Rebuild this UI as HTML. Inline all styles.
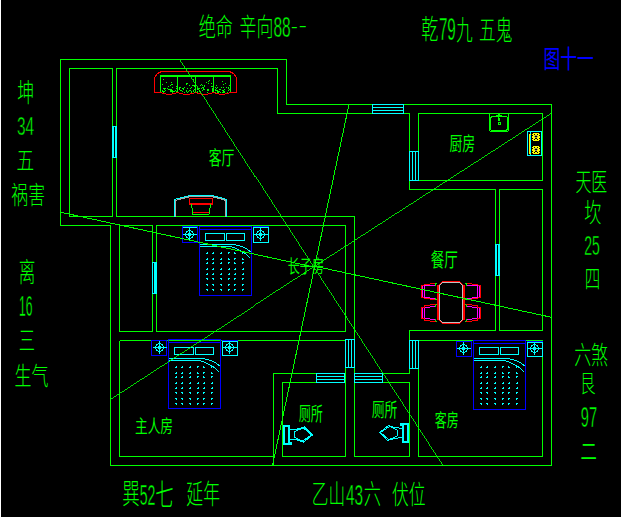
<!DOCTYPE html>
<html lang="zh"><head><meta charset="utf-8"><title>图十一</title>
<style>
html,body{margin:0;padding:0;background:#000;}
body{width:621px;height:518px;overflow:hidden;position:relative;}
#frame{position:absolute;left:0;top:0;width:620px;height:517px;border-left:1px solid #fff;border-bottom:1px solid #fff;background:#000;}
svg{position:absolute;left:0;top:0;}
text{font-family:"Liberation Sans","Noto Sans CJK SC",sans-serif;font-weight:300;white-space:pre;}
</style></head><body>
<div id="frame"></div>
<svg width="621" height="518" viewBox="0 0 621 518">
<g shape-rendering="crispEdges" fill="none">
<polyline points="60.5,225.5 60.5,59.5 286.5,59.5 286.5,104.5 551.5,104.5 551.5,465.5 110.5,465.5 110.5,225.5" stroke="#00ff00" stroke-width="1" fill="none"/>
<line x1="60.5" y1="225.5" x2="110.5" y2="225.5" stroke="#00ff00" stroke-width="1"/>
<rect x="69.5" y="68.5" width="43.0" height="148.0" stroke="#00ff00" stroke-width="1" fill="none"/>
<polyline points="116.5,216.5 116.5,68.5 277.5,68.5 277.5,113.5 409.5,113.5 409.5,189.5 495.5,189.5" stroke="#00ff00" stroke-width="1" fill="none"/>
<line x1="116.5" y1="216.5" x2="354.5" y2="216.5" stroke="#00ff00" stroke-width="1"/>
<line x1="354.5" y1="216.5" x2="354.5" y2="456.5" stroke="#00ff00" stroke-width="1"/>
<rect x="418.5" y="113.5" width="124.0" height="67.0" stroke="#00ff00" stroke-width="1" fill="none"/>
<polyline points="495.5,189.5 495.5,330.5 409.5,330.5 409.5,373.5" stroke="#00ff00" stroke-width="1" fill="none"/>
<rect x="499.5" y="189.5" width="43.0" height="141.0" stroke="#00ff00" stroke-width="1" fill="none"/>
<rect x="156.5" y="225.5" width="189.0" height="106.0" stroke="#00ff00" stroke-width="1" fill="none"/>
<rect x="119.5" y="225.5" width="33.0" height="106.0" stroke="#00ff00" stroke-width="1" fill="none"/>
<polyline points="119.5,340.5 345.5,340.5 345.5,373.5 273.5,373.5 273.5,465.5" stroke="#00ff00" stroke-width="1" fill="none"/>
<polyline points="119.5,340.5 119.5,456.5 273.5,456.5" stroke="#00ff00" stroke-width="1" fill="none"/>
<rect x="282.5" y="382.5" width="63.0" height="74.0" stroke="#00ff00" stroke-width="1" fill="none"/>
<line x1="345.5" y1="373.5" x2="345.5" y2="382.5" stroke="#00ff00" stroke-width="1"/>
<rect x="354.5" y="382.5" width="55.0" height="74.0" stroke="#00ff00" stroke-width="1" fill="none"/>
<line x1="354.5" y1="373.5" x2="409.5" y2="373.5" stroke="#00ff00" stroke-width="1"/>
<rect x="418.5" y="340.5" width="124.0" height="116.0" stroke="#00ff00" stroke-width="1" fill="none"/>
<rect x="372.0" y="104.0" width="10.0" height="#000" fill="32.0"/>
<rect x="372.5" y="104.5" width="31.0" height="9.0" stroke="#00ffff" stroke-width="1" fill="none"/>
<line x1="372.5" y1="107.5" x2="403.5" y2="107.5" stroke="#00ffff" stroke-width="1"/>
<line x1="372.5" y1="110.5" x2="403.5" y2="110.5" stroke="#00ffff" stroke-width="1"/>
<rect x="409.0" y="151.0" width="30.0" height="#000" fill="10.0"/>
<rect x="409.5" y="151.5" width="9.0" height="29.0" stroke="#00ffff" stroke-width="1" fill="none"/>
<line x1="412.5" y1="151.5" x2="412.5" y2="180.5" stroke="#00ffff" stroke-width="1"/>
<line x1="415.5" y1="151.5" x2="415.5" y2="180.5" stroke="#00ffff" stroke-width="1"/>
<rect x="345.0" y="339.0" width="29.0" height="#000" fill="10.0"/>
<rect x="345.5" y="339.5" width="9.0" height="28.0" stroke="#00ffff" stroke-width="1" fill="none"/>
<line x1="348.5" y1="339.5" x2="348.5" y2="367.5" stroke="#00ffff" stroke-width="1"/>
<line x1="351.5" y1="339.5" x2="351.5" y2="367.5" stroke="#00ffff" stroke-width="1"/>
<rect x="409.0" y="340.0" width="29.0" height="#000" fill="10.0"/>
<rect x="409.5" y="340.5" width="9.0" height="28.0" stroke="#00ffff" stroke-width="1" fill="none"/>
<line x1="412.5" y1="340.5" x2="412.5" y2="368.5" stroke="#00ffff" stroke-width="1"/>
<line x1="415.5" y1="340.5" x2="415.5" y2="368.5" stroke="#00ffff" stroke-width="1"/>
<rect x="316.0" y="373.0" width="10.0" height="#000" fill="29.0"/>
<rect x="316.5" y="373.5" width="28.0" height="9.0" stroke="#00ffff" stroke-width="1" fill="none"/>
<line x1="316.5" y1="376.5" x2="344.5" y2="376.5" stroke="#00ffff" stroke-width="1"/>
<line x1="316.5" y1="379.5" x2="344.5" y2="379.5" stroke="#00ffff" stroke-width="1"/>
<rect x="354.0" y="373.0" width="10.0" height="#000" fill="29.0"/>
<rect x="354.5" y="373.5" width="28.0" height="9.0" stroke="#00ffff" stroke-width="1" fill="none"/>
<line x1="354.5" y1="376.5" x2="382.5" y2="376.5" stroke="#00ffff" stroke-width="1"/>
<line x1="354.5" y1="379.5" x2="382.5" y2="379.5" stroke="#00ffff" stroke-width="1"/>
<rect x="112.0" y="126.0" width="32.0" height="#000" fill="5.0"/>
<rect x="112.5" y="126.5" width="4.0" height="31.0" stroke="#00ffff" stroke-width="1" fill="none"/>
<line x1="113.5" y1="126.5" x2="113.5" y2="157.5" stroke="#00ffff" stroke-width="1"/>
<line x1="115.5" y1="126.5" x2="115.5" y2="157.5" stroke="#00ffff" stroke-width="1"/>
<rect x="152.0" y="262.0" width="32.0" height="#000" fill="5.0"/>
<rect x="152.5" y="262.5" width="4.0" height="31.0" stroke="#00ffff" stroke-width="1" fill="none"/>
<line x1="154.5" y1="262.5" x2="154.5" y2="293.5" stroke="#00ffff" stroke-width="1"/>
<line x1="155.5" y1="262.5" x2="155.5" y2="293.5" stroke="#00ffff" stroke-width="1"/>
<rect x="495.0" y="244.0" width="32.0" height="#000" fill="5.0"/>
<rect x="495.5" y="244.5" width="4.0" height="31.0" stroke="#00ffff" stroke-width="1" fill="none"/>
<line x1="496.5" y1="244.5" x2="496.5" y2="275.5" stroke="#00ffff" stroke-width="1"/>
<line x1="498.5" y1="244.5" x2="498.5" y2="275.5" stroke="#00ffff" stroke-width="1"/>
<polyline points="154.5,92.5 154.5,77.5 157.5,73.5 161.5,71.5 229.5,71.5 233.5,73.5 236.5,77.5 236.5,92.5" stroke="#ff0000" stroke-width="1" fill="none"/>
<rect x="154" y="92" width="8" height="1" fill="#ff0000"/>
<rect x="229" y="92" width="8" height="1" fill="#ff0000"/>
<rect x="159" y="92" width="3" height="1" fill="#ff0000"/>
<rect x="176" y="92" width="3" height="1" fill="#ff0000"/>
<rect x="162" y="93" width="4" height="1" fill="#ff0000"/>
<rect x="166" y="94" width="6" height="1" fill="#ff0000"/>
<rect x="172" y="93" width="4" height="1" fill="#ff0000"/>
<rect x="176" y="92" width="3" height="1" fill="#ff0000"/>
<rect x="194" y="92" width="3" height="1" fill="#ff0000"/>
<rect x="179" y="93" width="4" height="1" fill="#ff0000"/>
<rect x="183" y="94" width="7" height="1" fill="#ff0000"/>
<rect x="190" y="93" width="4" height="1" fill="#ff0000"/>
<rect x="194" y="92" width="3" height="1" fill="#ff0000"/>
<rect x="212" y="92" width="3" height="1" fill="#ff0000"/>
<rect x="197" y="93" width="4" height="1" fill="#ff0000"/>
<rect x="201" y="94" width="7" height="1" fill="#ff0000"/>
<rect x="208" y="93" width="4" height="1" fill="#ff0000"/>
<rect x="212" y="92" width="3" height="1" fill="#ff0000"/>
<rect x="229" y="92" width="3" height="1" fill="#ff0000"/>
<rect x="215" y="93" width="4" height="1" fill="#ff0000"/>
<rect x="219" y="94" width="6" height="1" fill="#ff0000"/>
<rect x="225" y="93" width="4" height="1" fill="#ff0000"/>
<polyline points="160.5,92 160.5,75.5 230.5,75.5 230.5,92" stroke="#00ff00" stroke-width="1" fill="none"/>
<line x1="160.5" y1="76.5" x2="230.5" y2="76.5" stroke="#00ff00" stroke-width="1"/>
<line x1="177.5" y1="76.5" x2="177.5" y2="92" stroke="#00ff00" stroke-width="1"/>
<line x1="195.5" y1="76.5" x2="195.5" y2="92" stroke="#00ff00" stroke-width="1"/>
<line x1="213.5" y1="76.5" x2="213.5" y2="92" stroke="#00ff00" stroke-width="1"/>
<rect x="167" y="88" width="1" height="1" fill="#00ff00"/>
<rect x="162" y="91" width="1" height="1" fill="#00ff00"/>
<rect x="163" y="92" width="1" height="1" fill="#00ff00"/>
<rect x="171" y="90" width="1" height="1" fill="#00ff00"/>
<rect x="162" y="90" width="1" height="1" fill="#00ff00"/>
<rect x="163" y="91" width="1" height="1" fill="#00ff00"/>
<rect x="168" y="89" width="1" height="1" fill="#00ff00"/>
<rect x="170" y="91" width="1" height="1" fill="#00ff00"/>
<rect x="168" y="86" width="1" height="1" fill="#00ff00"/>
<rect x="165" y="90" width="1" height="1" fill="#00ff00"/>
<rect x="172" y="84" width="1" height="1" fill="#00ff00"/>
<rect x="171" y="84" width="1" height="1" fill="#00ff00"/>
<rect x="171" y="82" width="1" height="1" fill="#00ff00"/>
<rect x="162" y="84" width="1" height="1" fill="#00ff00"/>
<rect x="170" y="90" width="1" height="1" fill="#00ff00"/>
<rect x="164" y="89" width="1" height="1" fill="#00ff00"/>
<rect x="170" y="89" width="1" height="1" fill="#00ff00"/>
<rect x="175" y="90" width="1" height="1" fill="#00ff00"/>
<rect x="172" y="90" width="1" height="1" fill="#00ff00"/>
<rect x="172" y="87" width="1" height="1" fill="#00ff00"/>
<rect x="165" y="88" width="1" height="1" fill="#00ff00"/>
<rect x="163" y="88" width="1" height="1" fill="#00ff00"/>
<rect x="171" y="89" width="1" height="1" fill="#00ff00"/>
<rect x="172" y="91" width="1" height="1" fill="#00ff00"/>
<rect x="170" y="89" width="1" height="1" fill="#00ff00"/>
<rect x="171" y="91" width="1" height="1" fill="#00ff00"/>
<rect x="176" y="88" width="1" height="1" fill="#00ff00"/>
<rect x="174" y="91" width="1" height="1" fill="#00ff00"/>
<rect x="164" y="91" width="1" height="1" fill="#00ff00"/>
<rect x="171" y="89" width="1" height="1" fill="#00ff00"/>
<rect x="166" y="82" width="1" height="1" fill="#00ff00"/>
<rect x="173" y="91" width="1" height="1" fill="#00ff00"/>
<rect x="169" y="89" width="1" height="1" fill="#00ff00"/>
<rect x="163" y="79" width="1" height="1" fill="#00ff00"/>
<rect x="170" y="85" width="1" height="1" fill="#00ff00"/>
<rect x="164" y="88" width="1" height="1" fill="#00ff00"/>
<rect x="176" y="91" width="1" height="1" fill="#00ff00"/>
<rect x="172" y="92" width="1" height="1" fill="#00ff00"/>
<rect x="163" y="92" width="1" height="1" fill="#00ff00"/>
<rect x="176" y="86" width="1" height="1" fill="#00ff00"/>
<rect x="189" y="90" width="1" height="1" fill="#00ff00"/>
<rect x="194" y="89" width="1" height="1" fill="#00ff00"/>
<rect x="193" y="90" width="1" height="1" fill="#00ff00"/>
<rect x="187" y="92" width="1" height="1" fill="#00ff00"/>
<rect x="194" y="92" width="1" height="1" fill="#00ff00"/>
<rect x="188" y="91" width="1" height="1" fill="#00ff00"/>
<rect x="193" y="91" width="1" height="1" fill="#00ff00"/>
<rect x="190" y="88" width="1" height="1" fill="#00ff00"/>
<rect x="179" y="88" width="1" height="1" fill="#00ff00"/>
<rect x="182" y="91" width="1" height="1" fill="#00ff00"/>
<rect x="194" y="85" width="1" height="1" fill="#00ff00"/>
<rect x="183" y="89" width="1" height="1" fill="#00ff00"/>
<rect x="186" y="84" width="1" height="1" fill="#00ff00"/>
<rect x="194" y="86" width="1" height="1" fill="#00ff00"/>
<rect x="181" y="90" width="1" height="1" fill="#00ff00"/>
<rect x="187" y="88" width="1" height="1" fill="#00ff00"/>
<rect x="183" y="88" width="1" height="1" fill="#00ff00"/>
<rect x="187" y="83" width="1" height="1" fill="#00ff00"/>
<rect x="192" y="85" width="1" height="1" fill="#00ff00"/>
<rect x="191" y="92" width="1" height="1" fill="#00ff00"/>
<rect x="186" y="91" width="1" height="1" fill="#00ff00"/>
<rect x="186" y="90" width="1" height="1" fill="#00ff00"/>
<rect x="186" y="83" width="1" height="1" fill="#00ff00"/>
<rect x="184" y="92" width="1" height="1" fill="#00ff00"/>
<rect x="187" y="92" width="1" height="1" fill="#00ff00"/>
<rect x="190" y="90" width="1" height="1" fill="#00ff00"/>
<rect x="189" y="85" width="1" height="1" fill="#00ff00"/>
<rect x="180" y="90" width="1" height="1" fill="#00ff00"/>
<rect x="193" y="85" width="1" height="1" fill="#00ff00"/>
<rect x="191" y="87" width="1" height="1" fill="#00ff00"/>
<rect x="191" y="91" width="1" height="1" fill="#00ff00"/>
<rect x="191" y="91" width="1" height="1" fill="#00ff00"/>
<rect x="180" y="87" width="1" height="1" fill="#00ff00"/>
<rect x="193" y="79" width="1" height="1" fill="#00ff00"/>
<rect x="184" y="87" width="1" height="1" fill="#00ff00"/>
<rect x="182" y="88" width="1" height="1" fill="#00ff00"/>
<rect x="179" y="87" width="1" height="1" fill="#00ff00"/>
<rect x="190" y="90" width="1" height="1" fill="#00ff00"/>
<rect x="179" y="89" width="1" height="1" fill="#00ff00"/>
<rect x="191" y="91" width="1" height="1" fill="#00ff00"/>
<rect x="201" y="84" width="1" height="1" fill="#00ff00"/>
<rect x="208" y="83" width="1" height="1" fill="#00ff00"/>
<rect x="212" y="86" width="1" height="1" fill="#00ff00"/>
<rect x="211" y="86" width="1" height="1" fill="#00ff00"/>
<rect x="212" y="90" width="1" height="1" fill="#00ff00"/>
<rect x="200" y="92" width="1" height="1" fill="#00ff00"/>
<rect x="207" y="92" width="1" height="1" fill="#00ff00"/>
<rect x="202" y="87" width="1" height="1" fill="#00ff00"/>
<rect x="197" y="89" width="1" height="1" fill="#00ff00"/>
<rect x="208" y="81" width="1" height="1" fill="#00ff00"/>
<rect x="201" y="88" width="1" height="1" fill="#00ff00"/>
<rect x="206" y="82" width="1" height="1" fill="#00ff00"/>
<rect x="199" y="91" width="1" height="1" fill="#00ff00"/>
<rect x="208" y="89" width="1" height="1" fill="#00ff00"/>
<rect x="202" y="90" width="1" height="1" fill="#00ff00"/>
<rect x="207" y="90" width="1" height="1" fill="#00ff00"/>
<rect x="204" y="86" width="1" height="1" fill="#00ff00"/>
<rect x="203" y="87" width="1" height="1" fill="#00ff00"/>
<rect x="204" y="89" width="1" height="1" fill="#00ff00"/>
<rect x="204" y="85" width="1" height="1" fill="#00ff00"/>
<rect x="203" y="88" width="1" height="1" fill="#00ff00"/>
<rect x="197" y="92" width="1" height="1" fill="#00ff00"/>
<rect x="197" y="91" width="1" height="1" fill="#00ff00"/>
<rect x="203" y="87" width="1" height="1" fill="#00ff00"/>
<rect x="208" y="81" width="1" height="1" fill="#00ff00"/>
<rect x="208" y="89" width="1" height="1" fill="#00ff00"/>
<rect x="208" y="90" width="1" height="1" fill="#00ff00"/>
<rect x="212" y="91" width="1" height="1" fill="#00ff00"/>
<rect x="203" y="89" width="1" height="1" fill="#00ff00"/>
<rect x="197" y="88" width="1" height="1" fill="#00ff00"/>
<rect x="212" y="89" width="1" height="1" fill="#00ff00"/>
<rect x="199" y="90" width="1" height="1" fill="#00ff00"/>
<rect x="200" y="85" width="1" height="1" fill="#00ff00"/>
<rect x="203" y="88" width="1" height="1" fill="#00ff00"/>
<rect x="212" y="88" width="1" height="1" fill="#00ff00"/>
<rect x="207" y="89" width="1" height="1" fill="#00ff00"/>
<rect x="199" y="88" width="1" height="1" fill="#00ff00"/>
<rect x="209" y="80" width="1" height="1" fill="#00ff00"/>
<rect x="211" y="83" width="1" height="1" fill="#00ff00"/>
<rect x="202" y="85" width="1" height="1" fill="#00ff00"/>
<rect x="217" y="91" width="1" height="1" fill="#00ff00"/>
<rect x="224" y="92" width="1" height="1" fill="#00ff00"/>
<rect x="229" y="85" width="1" height="1" fill="#00ff00"/>
<rect x="224" y="91" width="1" height="1" fill="#00ff00"/>
<rect x="228" y="88" width="1" height="1" fill="#00ff00"/>
<rect x="229" y="89" width="1" height="1" fill="#00ff00"/>
<rect x="220" y="89" width="1" height="1" fill="#00ff00"/>
<rect x="215" y="87" width="1" height="1" fill="#00ff00"/>
<rect x="215" y="90" width="1" height="1" fill="#00ff00"/>
<rect x="216" y="85" width="1" height="1" fill="#00ff00"/>
<rect x="223" y="92" width="1" height="1" fill="#00ff00"/>
<rect x="228" y="90" width="1" height="1" fill="#00ff00"/>
<rect x="218" y="91" width="1" height="1" fill="#00ff00"/>
<rect x="219" y="89" width="1" height="1" fill="#00ff00"/>
<rect x="218" y="92" width="1" height="1" fill="#00ff00"/>
<rect x="224" y="89" width="1" height="1" fill="#00ff00"/>
<rect x="220" y="92" width="1" height="1" fill="#00ff00"/>
<rect x="217" y="87" width="1" height="1" fill="#00ff00"/>
<rect x="215" y="89" width="1" height="1" fill="#00ff00"/>
<rect x="222" y="90" width="1" height="1" fill="#00ff00"/>
<rect x="225" y="83" width="1" height="1" fill="#00ff00"/>
<rect x="221" y="87" width="1" height="1" fill="#00ff00"/>
<rect x="228" y="87" width="1" height="1" fill="#00ff00"/>
<rect x="223" y="90" width="1" height="1" fill="#00ff00"/>
<rect x="217" y="92" width="1" height="1" fill="#00ff00"/>
<rect x="222" y="92" width="1" height="1" fill="#00ff00"/>
<rect x="227" y="92" width="1" height="1" fill="#00ff00"/>
<rect x="227" y="92" width="1" height="1" fill="#00ff00"/>
<rect x="217" y="90" width="1" height="1" fill="#00ff00"/>
<rect x="226" y="87" width="1" height="1" fill="#00ff00"/>
<rect x="216" y="88" width="1" height="1" fill="#00ff00"/>
<rect x="223" y="91" width="1" height="1" fill="#00ff00"/>
<rect x="223" y="84" width="1" height="1" fill="#00ff00"/>
<rect x="216" y="90" width="1" height="1" fill="#00ff00"/>
<rect x="229" y="89" width="1" height="1" fill="#00ff00"/>
<rect x="219" y="91" width="1" height="1" fill="#00ff00"/>
<rect x="215" y="92" width="1" height="1" fill="#00ff00"/>
<rect x="223" y="87" width="1" height="1" fill="#00ff00"/>
<rect x="215" y="92" width="1" height="1" fill="#00ff00"/>
<rect x="222" y="81" width="1" height="1" fill="#00ff00"/>
<path d="M174.5,216.5 V199.5 L177.5,198.5 L182.5,197.5 L186.5,196.5 L190.5,195.5 H211.5 L215.5,196.5 L219.5,197.5 L223.5,198.5 L226.5,199.5 V216.5" stroke="#00ffff" stroke-width="1" fill="none"/>
<path d="M175.5,216.5 V200.5 L178.5,199.5 L182.5,198.5 L186.5,197.5 L190.5,196.5 H211.5 L215.5,197.5 L219.5,198.5 L223.5,199.5 L225.5,200.5 V216.5" stroke="#a8a8a8" stroke-width="1" fill="none"/>
<rect x="189.5" y="198.5" width="23.0" height="5.5" stroke="#ff0000" stroke-width="1" fill="none"/>
<line x1="189.5" y1="203.5" x2="212.5" y2="203.5" stroke="#ff0000" stroke-width="1"/>
<polyline points="191.5,204.5 193,214.5 209,214.5 210.5,204.5" stroke="#00ff00" stroke-width="1" fill="none"/>
<line x1="193" y1="212.5" x2="209" y2="212.5" stroke="#ff0000" stroke-width="1"/>
<g transform="translate(0,0)">
<rect x="182.5" y="226.5" width="15.0" height="16.0" stroke="#0000ff" stroke-width="1" fill="none"/>
<line x1="183" y1="227.5" x2="197" y2="227.5" stroke="#00ffff" stroke-width="1"/>
<rect x="185" y="233" width="1" height="1" fill="#00ffff"/>
<rect x="185" y="234" width="1" height="1" fill="#00ffff"/>
<rect x="185" y="235" width="1" height="1" fill="#00ffff"/>
<rect x="186" y="231" width="1" height="1" fill="#00ffff"/>
<rect x="186" y="232" width="1" height="1" fill="#00ffff"/>
<rect x="186" y="236" width="1" height="1" fill="#00ffff"/>
<rect x="186" y="237" width="1" height="1" fill="#00ffff"/>
<rect x="187" y="231" width="1" height="1" fill="#00ffff"/>
<rect x="187" y="237" width="1" height="1" fill="#00ffff"/>
<rect x="188" y="230" width="1" height="1" fill="#00ffff"/>
<rect x="188" y="238" width="1" height="1" fill="#00ffff"/>
<rect x="189" y="230" width="1" height="1" fill="#00ffff"/>
<rect x="189" y="238" width="1" height="1" fill="#00ffff"/>
<rect x="190" y="230" width="1" height="1" fill="#00ffff"/>
<rect x="190" y="238" width="1" height="1" fill="#00ffff"/>
<rect x="191" y="231" width="1" height="1" fill="#00ffff"/>
<rect x="191" y="237" width="1" height="1" fill="#00ffff"/>
<rect x="192" y="231" width="1" height="1" fill="#00ffff"/>
<rect x="192" y="232" width="1" height="1" fill="#00ffff"/>
<rect x="192" y="236" width="1" height="1" fill="#00ffff"/>
<rect x="192" y="237" width="1" height="1" fill="#00ffff"/>
<rect x="193" y="233" width="1" height="1" fill="#00ffff"/>
<rect x="193" y="234" width="1" height="1" fill="#00ffff"/>
<rect x="193" y="235" width="1" height="1" fill="#00ffff"/>
<rect x="188" y="233" width="3" height="3" fill="#00ffff"/>
<line x1="182.5" y1="234.5" x2="196.5" y2="234.5" stroke="#00ffff" stroke-width="1"/>
<line x1="189.5" y1="227.5" x2="189.5" y2="240.5" stroke="#00ffff" stroke-width="1"/>
<line x1="253" y1="226.5" x2="269" y2="226.5" stroke="#0000ff" stroke-width="1"/>
<rect x="253.5" y="227.5" width="15.0" height="15.0" stroke="#00ffff" stroke-width="1" fill="none"/>
<rect x="256" y="233" width="1" height="1" fill="#00ffff"/>
<rect x="256" y="234" width="1" height="1" fill="#00ffff"/>
<rect x="256" y="235" width="1" height="1" fill="#00ffff"/>
<rect x="257" y="231" width="1" height="1" fill="#00ffff"/>
<rect x="257" y="232" width="1" height="1" fill="#00ffff"/>
<rect x="257" y="236" width="1" height="1" fill="#00ffff"/>
<rect x="257" y="237" width="1" height="1" fill="#00ffff"/>
<rect x="258" y="231" width="1" height="1" fill="#00ffff"/>
<rect x="258" y="237" width="1" height="1" fill="#00ffff"/>
<rect x="259" y="230" width="1" height="1" fill="#00ffff"/>
<rect x="259" y="238" width="1" height="1" fill="#00ffff"/>
<rect x="260" y="230" width="1" height="1" fill="#00ffff"/>
<rect x="260" y="238" width="1" height="1" fill="#00ffff"/>
<rect x="261" y="230" width="1" height="1" fill="#00ffff"/>
<rect x="261" y="238" width="1" height="1" fill="#00ffff"/>
<rect x="262" y="231" width="1" height="1" fill="#00ffff"/>
<rect x="262" y="237" width="1" height="1" fill="#00ffff"/>
<rect x="263" y="231" width="1" height="1" fill="#00ffff"/>
<rect x="263" y="232" width="1" height="1" fill="#00ffff"/>
<rect x="263" y="236" width="1" height="1" fill="#00ffff"/>
<rect x="263" y="237" width="1" height="1" fill="#00ffff"/>
<rect x="264" y="233" width="1" height="1" fill="#00ffff"/>
<rect x="264" y="234" width="1" height="1" fill="#00ffff"/>
<rect x="264" y="235" width="1" height="1" fill="#00ffff"/>
<rect x="259" y="233" width="3" height="3" fill="#00ffff"/>
<line x1="253.5" y1="234.5" x2="267.5" y2="234.5" stroke="#00ffff" stroke-width="1"/>
<line x1="260.5" y1="227.5" x2="260.5" y2="240.5" stroke="#00ffff" stroke-width="1"/>
<rect x="199.5" y="226.5" width="52.0" height="69.0" stroke="#0000ff" stroke-width="1" fill="none"/>
<line x1="199.5" y1="229.5" x2="251.5" y2="229.5" stroke="#0000ff" stroke-width="1"/>
<g transform="translate(0,0)">
<rect x="205.5" y="233.5" width="19.0" height="7.0" stroke="#00ffff" stroke-width="1" fill="none"/>
<rect x="226.5" y="233.5" width="18.0" height="7.0" stroke="#00ffff" stroke-width="1" fill="none"/>
<path d="M199.5,244.5 H233.5 L238,245.5 L242,246.5 L246,248.5 L251.5,252.5" stroke="#00ffff" stroke-width="1" fill="none"/>
<path d="M199.5,246.5 H229.5 L234,247.5 L238,249.5 L242.5,251.5 L246.5,254.5 L250.5,258.5" stroke="#00ffff" stroke-width="1" fill="none"/>
<rect x="207" y="252" width="1" height="1" fill="#00ffff"/>
<rect x="206" y="253" width="2" height="1" fill="#00ffff"/>
<rect x="207" y="258" width="1" height="1" fill="#00ffff"/>
<rect x="206" y="259" width="2" height="1" fill="#00ffff"/>
<rect x="207" y="262" width="1" height="1" fill="#00ffff"/>
<rect x="206" y="263" width="2" height="1" fill="#00ffff"/>
<rect x="207" y="268" width="1" height="1" fill="#00ffff"/>
<rect x="206" y="269" width="2" height="1" fill="#00ffff"/>
<rect x="207" y="273" width="1" height="1" fill="#00ffff"/>
<rect x="206" y="274" width="2" height="1" fill="#00ffff"/>
<rect x="206" y="278" width="2" height="1" fill="#00ffff"/>
<rect x="207" y="279" width="1" height="1" fill="#00ffff"/>
<rect x="206" y="284" width="2" height="1" fill="#00ffff"/>
<rect x="207" y="285" width="1" height="1" fill="#00ffff"/>
<rect x="206" y="289" width="2" height="1" fill="#00ffff"/>
<rect x="207" y="290" width="1" height="1" fill="#00ffff"/>
<rect x="213" y="252" width="1" height="1" fill="#00ffff"/>
<rect x="212" y="253" width="2" height="1" fill="#00ffff"/>
<rect x="213" y="258" width="1" height="1" fill="#00ffff"/>
<rect x="212" y="259" width="2" height="1" fill="#00ffff"/>
<rect x="213" y="262" width="1" height="1" fill="#00ffff"/>
<rect x="212" y="263" width="2" height="1" fill="#00ffff"/>
<rect x="213" y="268" width="1" height="1" fill="#00ffff"/>
<rect x="212" y="269" width="2" height="1" fill="#00ffff"/>
<rect x="213" y="273" width="1" height="1" fill="#00ffff"/>
<rect x="212" y="274" width="2" height="1" fill="#00ffff"/>
<rect x="212" y="278" width="2" height="1" fill="#00ffff"/>
<rect x="213" y="279" width="1" height="1" fill="#00ffff"/>
<rect x="212" y="284" width="2" height="1" fill="#00ffff"/>
<rect x="213" y="285" width="1" height="1" fill="#00ffff"/>
<rect x="212" y="289" width="2" height="1" fill="#00ffff"/>
<rect x="213" y="290" width="1" height="1" fill="#00ffff"/>
<rect x="221" y="252" width="1" height="1" fill="#00ffff"/>
<rect x="220" y="253" width="2" height="1" fill="#00ffff"/>
<rect x="221" y="258" width="1" height="1" fill="#00ffff"/>
<rect x="220" y="259" width="2" height="1" fill="#00ffff"/>
<rect x="221" y="262" width="1" height="1" fill="#00ffff"/>
<rect x="220" y="263" width="2" height="1" fill="#00ffff"/>
<rect x="221" y="268" width="1" height="1" fill="#00ffff"/>
<rect x="220" y="269" width="2" height="1" fill="#00ffff"/>
<rect x="221" y="273" width="1" height="1" fill="#00ffff"/>
<rect x="220" y="274" width="2" height="1" fill="#00ffff"/>
<rect x="220" y="278" width="2" height="1" fill="#00ffff"/>
<rect x="221" y="279" width="1" height="1" fill="#00ffff"/>
<rect x="220" y="284" width="2" height="1" fill="#00ffff"/>
<rect x="221" y="285" width="1" height="1" fill="#00ffff"/>
<rect x="220" y="289" width="2" height="1" fill="#00ffff"/>
<rect x="221" y="290" width="1" height="1" fill="#00ffff"/>
<rect x="228" y="252" width="1" height="2" fill="#00ffff"/>
<rect x="229" y="252" width="1" height="1" fill="#00ffff"/>
<rect x="228" y="258" width="1" height="2" fill="#00ffff"/>
<rect x="229" y="259" width="1" height="1" fill="#00ffff"/>
<rect x="228" y="262" width="1" height="2" fill="#00ffff"/>
<rect x="229" y="262" width="1" height="1" fill="#00ffff"/>
<rect x="229" y="268" width="1" height="1" fill="#00ffff"/>
<rect x="228" y="269" width="2" height="1" fill="#00ffff"/>
<rect x="229" y="273" width="1" height="1" fill="#00ffff"/>
<rect x="228" y="274" width="2" height="1" fill="#00ffff"/>
<rect x="228" y="278" width="2" height="1" fill="#00ffff"/>
<rect x="228" y="279" width="1" height="1" fill="#00ffff"/>
<rect x="228" y="284" width="2" height="1" fill="#00ffff"/>
<rect x="228" y="285" width="1" height="1" fill="#00ffff"/>
<rect x="228" y="289" width="2" height="1" fill="#00ffff"/>
<rect x="228" y="290" width="1" height="1" fill="#00ffff"/>
<rect x="234" y="252" width="1" height="2" fill="#00ffff"/>
<rect x="235" y="253" width="1" height="1" fill="#00ffff"/>
<rect x="234" y="258" width="1" height="2" fill="#00ffff"/>
<rect x="235" y="258" width="1" height="1" fill="#00ffff"/>
<rect x="234" y="262" width="1" height="2" fill="#00ffff"/>
<rect x="235" y="263" width="1" height="1" fill="#00ffff"/>
<rect x="235" y="268" width="1" height="1" fill="#00ffff"/>
<rect x="234" y="269" width="2" height="1" fill="#00ffff"/>
<rect x="235" y="273" width="1" height="1" fill="#00ffff"/>
<rect x="234" y="274" width="2" height="1" fill="#00ffff"/>
<rect x="234" y="278" width="2" height="1" fill="#00ffff"/>
<rect x="234" y="279" width="1" height="1" fill="#00ffff"/>
<rect x="234" y="284" width="2" height="1" fill="#00ffff"/>
<rect x="234" y="285" width="1" height="1" fill="#00ffff"/>
<rect x="234" y="289" width="2" height="1" fill="#00ffff"/>
<rect x="234" y="290" width="1" height="1" fill="#00ffff"/>
<rect x="242" y="252" width="1" height="2" fill="#00ffff"/>
<rect x="243" y="252" width="1" height="1" fill="#00ffff"/>
<rect x="242" y="258" width="1" height="2" fill="#00ffff"/>
<rect x="243" y="259" width="1" height="1" fill="#00ffff"/>
<rect x="242" y="262" width="1" height="2" fill="#00ffff"/>
<rect x="243" y="262" width="1" height="1" fill="#00ffff"/>
<rect x="243" y="268" width="1" height="1" fill="#00ffff"/>
<rect x="242" y="269" width="2" height="1" fill="#00ffff"/>
<rect x="243" y="273" width="1" height="1" fill="#00ffff"/>
<rect x="242" y="274" width="2" height="1" fill="#00ffff"/>
<rect x="242" y="278" width="2" height="1" fill="#00ffff"/>
<rect x="242" y="279" width="1" height="1" fill="#00ffff"/>
<rect x="242" y="284" width="2" height="1" fill="#00ffff"/>
<rect x="242" y="285" width="1" height="1" fill="#00ffff"/>
<rect x="242" y="289" width="2" height="1" fill="#00ffff"/>
<rect x="242" y="290" width="1" height="1" fill="#00ffff"/>
</g>
</g>
<g transform="translate(-31,113)">
<rect x="182.5" y="227.5" width="15.0" height="15.0" stroke="#0000ff" stroke-width="1" fill="none"/>
<rect x="186" y="233" width="1" height="1" fill="#00ffff"/>
<rect x="186" y="234" width="1" height="1" fill="#00ffff"/>
<rect x="186" y="235" width="1" height="1" fill="#00ffff"/>
<rect x="187" y="231" width="1" height="1" fill="#00ffff"/>
<rect x="187" y="232" width="1" height="1" fill="#00ffff"/>
<rect x="187" y="236" width="1" height="1" fill="#00ffff"/>
<rect x="187" y="237" width="1" height="1" fill="#00ffff"/>
<rect x="188" y="231" width="1" height="1" fill="#00ffff"/>
<rect x="188" y="237" width="1" height="1" fill="#00ffff"/>
<rect x="189" y="230" width="1" height="1" fill="#00ffff"/>
<rect x="189" y="238" width="1" height="1" fill="#00ffff"/>
<rect x="190" y="230" width="1" height="1" fill="#00ffff"/>
<rect x="190" y="238" width="1" height="1" fill="#00ffff"/>
<rect x="191" y="230" width="1" height="1" fill="#00ffff"/>
<rect x="191" y="238" width="1" height="1" fill="#00ffff"/>
<rect x="192" y="231" width="1" height="1" fill="#00ffff"/>
<rect x="192" y="237" width="1" height="1" fill="#00ffff"/>
<rect x="193" y="231" width="1" height="1" fill="#00ffff"/>
<rect x="193" y="232" width="1" height="1" fill="#00ffff"/>
<rect x="193" y="236" width="1" height="1" fill="#00ffff"/>
<rect x="193" y="237" width="1" height="1" fill="#00ffff"/>
<rect x="194" y="233" width="1" height="1" fill="#00ffff"/>
<rect x="194" y="234" width="1" height="1" fill="#00ffff"/>
<rect x="194" y="235" width="1" height="1" fill="#00ffff"/>
<rect x="189" y="233" width="3" height="3" fill="#00ffff"/>
<line x1="183.5" y1="234.5" x2="197.5" y2="234.5" stroke="#00ffff" stroke-width="1"/>
<line x1="190.5" y1="227.5" x2="190.5" y2="240.5" stroke="#00ffff" stroke-width="1"/>
<line x1="253" y1="227.5" x2="269" y2="227.5" stroke="#0000ff" stroke-width="1"/>
<rect x="253.5" y="228.5" width="15.0" height="14.0" stroke="#00ffff" stroke-width="1" fill="none"/>
<rect x="256" y="233" width="1" height="1" fill="#00ffff"/>
<rect x="256" y="234" width="1" height="1" fill="#00ffff"/>
<rect x="256" y="235" width="1" height="1" fill="#00ffff"/>
<rect x="257" y="231" width="1" height="1" fill="#00ffff"/>
<rect x="257" y="232" width="1" height="1" fill="#00ffff"/>
<rect x="257" y="236" width="1" height="1" fill="#00ffff"/>
<rect x="257" y="237" width="1" height="1" fill="#00ffff"/>
<rect x="258" y="231" width="1" height="1" fill="#00ffff"/>
<rect x="258" y="237" width="1" height="1" fill="#00ffff"/>
<rect x="259" y="230" width="1" height="1" fill="#00ffff"/>
<rect x="259" y="238" width="1" height="1" fill="#00ffff"/>
<rect x="260" y="230" width="1" height="1" fill="#00ffff"/>
<rect x="260" y="238" width="1" height="1" fill="#00ffff"/>
<rect x="261" y="230" width="1" height="1" fill="#00ffff"/>
<rect x="261" y="238" width="1" height="1" fill="#00ffff"/>
<rect x="262" y="231" width="1" height="1" fill="#00ffff"/>
<rect x="262" y="237" width="1" height="1" fill="#00ffff"/>
<rect x="263" y="231" width="1" height="1" fill="#00ffff"/>
<rect x="263" y="232" width="1" height="1" fill="#00ffff"/>
<rect x="263" y="236" width="1" height="1" fill="#00ffff"/>
<rect x="263" y="237" width="1" height="1" fill="#00ffff"/>
<rect x="264" y="233" width="1" height="1" fill="#00ffff"/>
<rect x="264" y="234" width="1" height="1" fill="#00ffff"/>
<rect x="264" y="235" width="1" height="1" fill="#00ffff"/>
<rect x="259" y="233" width="3" height="3" fill="#00ffff"/>
<line x1="253.5" y1="234.5" x2="267.5" y2="234.5" stroke="#00ffff" stroke-width="1"/>
<line x1="260.5" y1="227.5" x2="260.5" y2="240.5" stroke="#00ffff" stroke-width="1"/>
<rect x="199.5" y="226.5" width="52.0" height="69.0" stroke="#0000ff" stroke-width="1" fill="none"/>
<line x1="199.5" y1="229.5" x2="251.5" y2="229.5" stroke="#0000ff" stroke-width="1"/>
<g transform="translate(0,1)">
<rect x="205.5" y="233.5" width="19.0" height="7.0" stroke="#00ffff" stroke-width="1" fill="none"/>
<rect x="226.5" y="233.5" width="18.0" height="7.0" stroke="#00ffff" stroke-width="1" fill="none"/>
<path d="M199.5,244.5 H233.5 L238,245.5 L242,246.5 L246,248.5 L251.5,252.5" stroke="#00ffff" stroke-width="1" fill="none"/>
<path d="M199.5,246.5 H229.5 L234,247.5 L238,249.5 L242.5,251.5 L246.5,254.5 L250.5,258.5" stroke="#00ffff" stroke-width="1" fill="none"/>
<rect x="207" y="252" width="1" height="1" fill="#00ffff"/>
<rect x="206" y="253" width="2" height="1" fill="#00ffff"/>
<rect x="207" y="258" width="1" height="1" fill="#00ffff"/>
<rect x="206" y="259" width="2" height="1" fill="#00ffff"/>
<rect x="207" y="262" width="1" height="1" fill="#00ffff"/>
<rect x="206" y="263" width="2" height="1" fill="#00ffff"/>
<rect x="207" y="268" width="1" height="1" fill="#00ffff"/>
<rect x="206" y="269" width="2" height="1" fill="#00ffff"/>
<rect x="207" y="273" width="1" height="1" fill="#00ffff"/>
<rect x="206" y="274" width="2" height="1" fill="#00ffff"/>
<rect x="206" y="278" width="2" height="1" fill="#00ffff"/>
<rect x="207" y="279" width="1" height="1" fill="#00ffff"/>
<rect x="206" y="284" width="2" height="1" fill="#00ffff"/>
<rect x="207" y="285" width="1" height="1" fill="#00ffff"/>
<rect x="206" y="289" width="2" height="1" fill="#00ffff"/>
<rect x="207" y="290" width="1" height="1" fill="#00ffff"/>
<rect x="213" y="252" width="1" height="1" fill="#00ffff"/>
<rect x="212" y="253" width="2" height="1" fill="#00ffff"/>
<rect x="213" y="258" width="1" height="1" fill="#00ffff"/>
<rect x="212" y="259" width="2" height="1" fill="#00ffff"/>
<rect x="213" y="262" width="1" height="1" fill="#00ffff"/>
<rect x="212" y="263" width="2" height="1" fill="#00ffff"/>
<rect x="213" y="268" width="1" height="1" fill="#00ffff"/>
<rect x="212" y="269" width="2" height="1" fill="#00ffff"/>
<rect x="213" y="273" width="1" height="1" fill="#00ffff"/>
<rect x="212" y="274" width="2" height="1" fill="#00ffff"/>
<rect x="212" y="278" width="2" height="1" fill="#00ffff"/>
<rect x="213" y="279" width="1" height="1" fill="#00ffff"/>
<rect x="212" y="284" width="2" height="1" fill="#00ffff"/>
<rect x="213" y="285" width="1" height="1" fill="#00ffff"/>
<rect x="212" y="289" width="2" height="1" fill="#00ffff"/>
<rect x="213" y="290" width="1" height="1" fill="#00ffff"/>
<rect x="221" y="252" width="1" height="1" fill="#00ffff"/>
<rect x="220" y="253" width="2" height="1" fill="#00ffff"/>
<rect x="221" y="258" width="1" height="1" fill="#00ffff"/>
<rect x="220" y="259" width="2" height="1" fill="#00ffff"/>
<rect x="221" y="262" width="1" height="1" fill="#00ffff"/>
<rect x="220" y="263" width="2" height="1" fill="#00ffff"/>
<rect x="221" y="268" width="1" height="1" fill="#00ffff"/>
<rect x="220" y="269" width="2" height="1" fill="#00ffff"/>
<rect x="221" y="273" width="1" height="1" fill="#00ffff"/>
<rect x="220" y="274" width="2" height="1" fill="#00ffff"/>
<rect x="220" y="278" width="2" height="1" fill="#00ffff"/>
<rect x="221" y="279" width="1" height="1" fill="#00ffff"/>
<rect x="220" y="284" width="2" height="1" fill="#00ffff"/>
<rect x="221" y="285" width="1" height="1" fill="#00ffff"/>
<rect x="220" y="289" width="2" height="1" fill="#00ffff"/>
<rect x="221" y="290" width="1" height="1" fill="#00ffff"/>
<rect x="228" y="252" width="1" height="2" fill="#00ffff"/>
<rect x="229" y="252" width="1" height="1" fill="#00ffff"/>
<rect x="228" y="258" width="1" height="2" fill="#00ffff"/>
<rect x="229" y="259" width="1" height="1" fill="#00ffff"/>
<rect x="228" y="262" width="1" height="2" fill="#00ffff"/>
<rect x="229" y="262" width="1" height="1" fill="#00ffff"/>
<rect x="229" y="268" width="1" height="1" fill="#00ffff"/>
<rect x="228" y="269" width="2" height="1" fill="#00ffff"/>
<rect x="229" y="273" width="1" height="1" fill="#00ffff"/>
<rect x="228" y="274" width="2" height="1" fill="#00ffff"/>
<rect x="228" y="278" width="2" height="1" fill="#00ffff"/>
<rect x="228" y="279" width="1" height="1" fill="#00ffff"/>
<rect x="228" y="284" width="2" height="1" fill="#00ffff"/>
<rect x="228" y="285" width="1" height="1" fill="#00ffff"/>
<rect x="228" y="289" width="2" height="1" fill="#00ffff"/>
<rect x="228" y="290" width="1" height="1" fill="#00ffff"/>
<rect x="234" y="252" width="1" height="2" fill="#00ffff"/>
<rect x="235" y="253" width="1" height="1" fill="#00ffff"/>
<rect x="234" y="258" width="1" height="2" fill="#00ffff"/>
<rect x="235" y="258" width="1" height="1" fill="#00ffff"/>
<rect x="234" y="262" width="1" height="2" fill="#00ffff"/>
<rect x="235" y="263" width="1" height="1" fill="#00ffff"/>
<rect x="235" y="268" width="1" height="1" fill="#00ffff"/>
<rect x="234" y="269" width="2" height="1" fill="#00ffff"/>
<rect x="235" y="273" width="1" height="1" fill="#00ffff"/>
<rect x="234" y="274" width="2" height="1" fill="#00ffff"/>
<rect x="234" y="278" width="2" height="1" fill="#00ffff"/>
<rect x="234" y="279" width="1" height="1" fill="#00ffff"/>
<rect x="234" y="284" width="2" height="1" fill="#00ffff"/>
<rect x="234" y="285" width="1" height="1" fill="#00ffff"/>
<rect x="234" y="289" width="2" height="1" fill="#00ffff"/>
<rect x="234" y="290" width="1" height="1" fill="#00ffff"/>
<rect x="242" y="252" width="1" height="2" fill="#00ffff"/>
<rect x="243" y="252" width="1" height="1" fill="#00ffff"/>
<rect x="242" y="258" width="1" height="2" fill="#00ffff"/>
<rect x="243" y="259" width="1" height="1" fill="#00ffff"/>
<rect x="242" y="262" width="1" height="2" fill="#00ffff"/>
<rect x="243" y="262" width="1" height="1" fill="#00ffff"/>
<rect x="243" y="268" width="1" height="1" fill="#00ffff"/>
<rect x="242" y="269" width="2" height="1" fill="#00ffff"/>
<rect x="243" y="273" width="1" height="1" fill="#00ffff"/>
<rect x="242" y="274" width="2" height="1" fill="#00ffff"/>
<rect x="242" y="278" width="2" height="1" fill="#00ffff"/>
<rect x="242" y="279" width="1" height="1" fill="#00ffff"/>
<rect x="242" y="284" width="2" height="1" fill="#00ffff"/>
<rect x="242" y="285" width="1" height="1" fill="#00ffff"/>
<rect x="242" y="289" width="2" height="1" fill="#00ffff"/>
<rect x="242" y="290" width="1" height="1" fill="#00ffff"/>
</g>
</g>
<g transform="translate(274,114)">
<rect x="182.5" y="227.5" width="15.0" height="15.0" stroke="#0000ff" stroke-width="1" fill="none"/>
<rect x="185" y="233" width="1" height="1" fill="#00ffff"/>
<rect x="185" y="234" width="1" height="1" fill="#00ffff"/>
<rect x="185" y="235" width="1" height="1" fill="#00ffff"/>
<rect x="186" y="231" width="1" height="1" fill="#00ffff"/>
<rect x="186" y="232" width="1" height="1" fill="#00ffff"/>
<rect x="186" y="236" width="1" height="1" fill="#00ffff"/>
<rect x="186" y="237" width="1" height="1" fill="#00ffff"/>
<rect x="187" y="231" width="1" height="1" fill="#00ffff"/>
<rect x="187" y="237" width="1" height="1" fill="#00ffff"/>
<rect x="188" y="230" width="1" height="1" fill="#00ffff"/>
<rect x="188" y="238" width="1" height="1" fill="#00ffff"/>
<rect x="189" y="230" width="1" height="1" fill="#00ffff"/>
<rect x="189" y="238" width="1" height="1" fill="#00ffff"/>
<rect x="190" y="230" width="1" height="1" fill="#00ffff"/>
<rect x="190" y="238" width="1" height="1" fill="#00ffff"/>
<rect x="191" y="231" width="1" height="1" fill="#00ffff"/>
<rect x="191" y="237" width="1" height="1" fill="#00ffff"/>
<rect x="192" y="231" width="1" height="1" fill="#00ffff"/>
<rect x="192" y="232" width="1" height="1" fill="#00ffff"/>
<rect x="192" y="236" width="1" height="1" fill="#00ffff"/>
<rect x="192" y="237" width="1" height="1" fill="#00ffff"/>
<rect x="193" y="233" width="1" height="1" fill="#00ffff"/>
<rect x="193" y="234" width="1" height="1" fill="#00ffff"/>
<rect x="193" y="235" width="1" height="1" fill="#00ffff"/>
<rect x="188" y="233" width="3" height="3" fill="#00ffff"/>
<line x1="182.5" y1="234.5" x2="196.5" y2="234.5" stroke="#00ffff" stroke-width="1"/>
<line x1="189.5" y1="227.5" x2="189.5" y2="240.5" stroke="#00ffff" stroke-width="1"/>
<line x1="253" y1="227.5" x2="269" y2="227.5" stroke="#0000ff" stroke-width="1"/>
<rect x="253.5" y="228.5" width="15.0" height="14.0" stroke="#00ffff" stroke-width="1" fill="none"/>
<rect x="256" y="233" width="1" height="1" fill="#00ffff"/>
<rect x="256" y="234" width="1" height="1" fill="#00ffff"/>
<rect x="256" y="235" width="1" height="1" fill="#00ffff"/>
<rect x="257" y="231" width="1" height="1" fill="#00ffff"/>
<rect x="257" y="232" width="1" height="1" fill="#00ffff"/>
<rect x="257" y="236" width="1" height="1" fill="#00ffff"/>
<rect x="257" y="237" width="1" height="1" fill="#00ffff"/>
<rect x="258" y="231" width="1" height="1" fill="#00ffff"/>
<rect x="258" y="237" width="1" height="1" fill="#00ffff"/>
<rect x="259" y="230" width="1" height="1" fill="#00ffff"/>
<rect x="259" y="238" width="1" height="1" fill="#00ffff"/>
<rect x="260" y="230" width="1" height="1" fill="#00ffff"/>
<rect x="260" y="238" width="1" height="1" fill="#00ffff"/>
<rect x="261" y="230" width="1" height="1" fill="#00ffff"/>
<rect x="261" y="238" width="1" height="1" fill="#00ffff"/>
<rect x="262" y="231" width="1" height="1" fill="#00ffff"/>
<rect x="262" y="237" width="1" height="1" fill="#00ffff"/>
<rect x="263" y="231" width="1" height="1" fill="#00ffff"/>
<rect x="263" y="232" width="1" height="1" fill="#00ffff"/>
<rect x="263" y="236" width="1" height="1" fill="#00ffff"/>
<rect x="263" y="237" width="1" height="1" fill="#00ffff"/>
<rect x="264" y="233" width="1" height="1" fill="#00ffff"/>
<rect x="264" y="234" width="1" height="1" fill="#00ffff"/>
<rect x="264" y="235" width="1" height="1" fill="#00ffff"/>
<rect x="259" y="233" width="3" height="3" fill="#00ffff"/>
<line x1="253.5" y1="234.5" x2="267.5" y2="234.5" stroke="#00ffff" stroke-width="1"/>
<line x1="260.5" y1="227.5" x2="260.5" y2="240.5" stroke="#00ffff" stroke-width="1"/>
<rect x="199.5" y="226.5" width="52.0" height="69.0" stroke="#0000ff" stroke-width="1" fill="none"/>
<line x1="199.5" y1="229.5" x2="251.5" y2="229.5" stroke="#0000ff" stroke-width="1"/>
<g transform="translate(0,0)">
<rect x="205.5" y="233.5" width="19.0" height="7.0" stroke="#00ffff" stroke-width="1" fill="none"/>
<rect x="226.5" y="233.5" width="18.0" height="7.0" stroke="#00ffff" stroke-width="1" fill="none"/>
<path d="M199.5,244.5 H233.5 L238,245.5 L242,246.5 L246,248.5 L251.5,252.5" stroke="#00ffff" stroke-width="1" fill="none"/>
<path d="M199.5,246.5 H229.5 L234,247.5 L238,249.5 L242.5,251.5 L246.5,254.5 L250.5,258.5" stroke="#00ffff" stroke-width="1" fill="none"/>
<rect x="207" y="252" width="1" height="1" fill="#00ffff"/>
<rect x="206" y="253" width="2" height="1" fill="#00ffff"/>
<rect x="207" y="258" width="1" height="1" fill="#00ffff"/>
<rect x="206" y="259" width="2" height="1" fill="#00ffff"/>
<rect x="207" y="262" width="1" height="1" fill="#00ffff"/>
<rect x="206" y="263" width="2" height="1" fill="#00ffff"/>
<rect x="207" y="268" width="1" height="1" fill="#00ffff"/>
<rect x="206" y="269" width="2" height="1" fill="#00ffff"/>
<rect x="207" y="273" width="1" height="1" fill="#00ffff"/>
<rect x="206" y="274" width="2" height="1" fill="#00ffff"/>
<rect x="206" y="278" width="2" height="1" fill="#00ffff"/>
<rect x="207" y="279" width="1" height="1" fill="#00ffff"/>
<rect x="206" y="284" width="2" height="1" fill="#00ffff"/>
<rect x="207" y="285" width="1" height="1" fill="#00ffff"/>
<rect x="206" y="289" width="2" height="1" fill="#00ffff"/>
<rect x="207" y="290" width="1" height="1" fill="#00ffff"/>
<rect x="213" y="252" width="1" height="1" fill="#00ffff"/>
<rect x="212" y="253" width="2" height="1" fill="#00ffff"/>
<rect x="213" y="258" width="1" height="1" fill="#00ffff"/>
<rect x="212" y="259" width="2" height="1" fill="#00ffff"/>
<rect x="213" y="262" width="1" height="1" fill="#00ffff"/>
<rect x="212" y="263" width="2" height="1" fill="#00ffff"/>
<rect x="213" y="268" width="1" height="1" fill="#00ffff"/>
<rect x="212" y="269" width="2" height="1" fill="#00ffff"/>
<rect x="213" y="273" width="1" height="1" fill="#00ffff"/>
<rect x="212" y="274" width="2" height="1" fill="#00ffff"/>
<rect x="212" y="278" width="2" height="1" fill="#00ffff"/>
<rect x="213" y="279" width="1" height="1" fill="#00ffff"/>
<rect x="212" y="284" width="2" height="1" fill="#00ffff"/>
<rect x="213" y="285" width="1" height="1" fill="#00ffff"/>
<rect x="212" y="289" width="2" height="1" fill="#00ffff"/>
<rect x="213" y="290" width="1" height="1" fill="#00ffff"/>
<rect x="221" y="252" width="1" height="1" fill="#00ffff"/>
<rect x="220" y="253" width="2" height="1" fill="#00ffff"/>
<rect x="221" y="258" width="1" height="1" fill="#00ffff"/>
<rect x="220" y="259" width="2" height="1" fill="#00ffff"/>
<rect x="221" y="262" width="1" height="1" fill="#00ffff"/>
<rect x="220" y="263" width="2" height="1" fill="#00ffff"/>
<rect x="221" y="268" width="1" height="1" fill="#00ffff"/>
<rect x="220" y="269" width="2" height="1" fill="#00ffff"/>
<rect x="221" y="273" width="1" height="1" fill="#00ffff"/>
<rect x="220" y="274" width="2" height="1" fill="#00ffff"/>
<rect x="220" y="278" width="2" height="1" fill="#00ffff"/>
<rect x="221" y="279" width="1" height="1" fill="#00ffff"/>
<rect x="220" y="284" width="2" height="1" fill="#00ffff"/>
<rect x="221" y="285" width="1" height="1" fill="#00ffff"/>
<rect x="220" y="289" width="2" height="1" fill="#00ffff"/>
<rect x="221" y="290" width="1" height="1" fill="#00ffff"/>
<rect x="228" y="252" width="1" height="2" fill="#00ffff"/>
<rect x="229" y="252" width="1" height="1" fill="#00ffff"/>
<rect x="228" y="258" width="1" height="2" fill="#00ffff"/>
<rect x="229" y="259" width="1" height="1" fill="#00ffff"/>
<rect x="228" y="262" width="1" height="2" fill="#00ffff"/>
<rect x="229" y="262" width="1" height="1" fill="#00ffff"/>
<rect x="229" y="268" width="1" height="1" fill="#00ffff"/>
<rect x="228" y="269" width="2" height="1" fill="#00ffff"/>
<rect x="229" y="273" width="1" height="1" fill="#00ffff"/>
<rect x="228" y="274" width="2" height="1" fill="#00ffff"/>
<rect x="228" y="278" width="2" height="1" fill="#00ffff"/>
<rect x="228" y="279" width="1" height="1" fill="#00ffff"/>
<rect x="228" y="284" width="2" height="1" fill="#00ffff"/>
<rect x="228" y="285" width="1" height="1" fill="#00ffff"/>
<rect x="228" y="289" width="2" height="1" fill="#00ffff"/>
<rect x="228" y="290" width="1" height="1" fill="#00ffff"/>
<rect x="234" y="252" width="1" height="2" fill="#00ffff"/>
<rect x="235" y="253" width="1" height="1" fill="#00ffff"/>
<rect x="234" y="258" width="1" height="2" fill="#00ffff"/>
<rect x="235" y="258" width="1" height="1" fill="#00ffff"/>
<rect x="234" y="262" width="1" height="2" fill="#00ffff"/>
<rect x="235" y="263" width="1" height="1" fill="#00ffff"/>
<rect x="235" y="268" width="1" height="1" fill="#00ffff"/>
<rect x="234" y="269" width="2" height="1" fill="#00ffff"/>
<rect x="235" y="273" width="1" height="1" fill="#00ffff"/>
<rect x="234" y="274" width="2" height="1" fill="#00ffff"/>
<rect x="234" y="278" width="2" height="1" fill="#00ffff"/>
<rect x="234" y="279" width="1" height="1" fill="#00ffff"/>
<rect x="234" y="284" width="2" height="1" fill="#00ffff"/>
<rect x="234" y="285" width="1" height="1" fill="#00ffff"/>
<rect x="234" y="289" width="2" height="1" fill="#00ffff"/>
<rect x="234" y="290" width="1" height="1" fill="#00ffff"/>
<rect x="242" y="252" width="1" height="2" fill="#00ffff"/>
<rect x="243" y="252" width="1" height="1" fill="#00ffff"/>
<rect x="242" y="258" width="1" height="2" fill="#00ffff"/>
<rect x="243" y="259" width="1" height="1" fill="#00ffff"/>
<rect x="242" y="262" width="1" height="2" fill="#00ffff"/>
<rect x="243" y="262" width="1" height="1" fill="#00ffff"/>
<rect x="243" y="268" width="1" height="1" fill="#00ffff"/>
<rect x="242" y="269" width="2" height="1" fill="#00ffff"/>
<rect x="243" y="273" width="1" height="1" fill="#00ffff"/>
<rect x="242" y="274" width="2" height="1" fill="#00ffff"/>
<rect x="242" y="278" width="2" height="1" fill="#00ffff"/>
<rect x="242" y="279" width="1" height="1" fill="#00ffff"/>
<rect x="242" y="284" width="2" height="1" fill="#00ffff"/>
<rect x="242" y="285" width="1" height="1" fill="#00ffff"/>
<rect x="242" y="289" width="2" height="1" fill="#00ffff"/>
<rect x="242" y="290" width="1" height="1" fill="#00ffff"/>
</g>
</g>
<rect x="430" y="283" width="5" height="1" fill="#ff0000"/>
<rect x="424" y="284" width="6" height="1" fill="#ff0000"/>
<rect x="421" y="285" width="3" height="1" fill="#ff0000"/>
<rect x="421" y="285" width="1" height="13" fill="#ff0000"/>
<rect x="421" y="297" width="3" height="1" fill="#ff0000"/>
<rect x="424" y="298" width="6" height="1" fill="#ff0000"/>
<rect x="430" y="299" width="5" height="1" fill="#ff0000"/>
<rect x="424" y="285" width="11" height="1" fill="#ff00ff"/>
<rect x="424" y="285" width="1" height="13" fill="#ff00ff"/>
<rect x="422" y="286" width="1" height="11" fill="#ff00ff"/>
<rect x="424" y="297" width="6" height="1" fill="#ff00ff"/>
<rect x="430" y="298" width="5" height="1" fill="#ff00ff"/>
<rect x="435" y="283" width="2" height="1" fill="#00ff00"/>
<rect x="435" y="284" width="1" height="2" fill="#00ff00"/>
<rect x="435" y="298" width="1" height="2" fill="#00ff00"/>
<rect x="436" y="299" width="1" height="1" fill="#00ff00"/>
<rect x="430" y="304" width="6" height="1" fill="#ff0000"/>
<rect x="424" y="305" width="6" height="1" fill="#ff0000"/>
<rect x="424" y="305" width="1" height="3" fill="#ff0000"/>
<rect x="421" y="307" width="4" height="1" fill="#ff0000"/>
<rect x="421" y="307" width="1" height="12" fill="#ff0000"/>
<rect x="421" y="318" width="4" height="1" fill="#ff0000"/>
<rect x="424" y="318" width="1" height="3" fill="#ff0000"/>
<rect x="424" y="320" width="6" height="1" fill="#ff0000"/>
<rect x="430" y="321" width="6" height="1" fill="#ff0000"/>
<rect x="430" y="306" width="5" height="1" fill="#ff00ff"/>
<rect x="425" y="307" width="5" height="1" fill="#ff00ff"/>
<rect x="424" y="308" width="1" height="10" fill="#ff00ff"/>
<rect x="422" y="308" width="1" height="10" fill="#ff00ff"/>
<rect x="425" y="318" width="5" height="1" fill="#ff00ff"/>
<rect x="430" y="319" width="5" height="1" fill="#ff00ff"/>
<rect x="436" y="304" width="1" height="1" fill="#00ff00"/>
<rect x="435" y="305" width="1" height="2" fill="#00ff00"/>
<rect x="435" y="319" width="1" height="2" fill="#00ff00"/>
<rect x="436" y="321" width="1" height="1" fill="#00ff00"/>
<rect x="467" y="283" width="5" height="1" fill="#ff0000"/>
<rect x="472" y="284" width="6" height="1" fill="#ff0000"/>
<rect x="478" y="285" width="3" height="1" fill="#ff0000"/>
<rect x="480" y="285" width="1" height="13" fill="#ff0000"/>
<rect x="478" y="297" width="3" height="1" fill="#ff0000"/>
<rect x="472" y="298" width="6" height="1" fill="#ff0000"/>
<rect x="467" y="299" width="5" height="1" fill="#ff0000"/>
<rect x="467" y="285" width="11" height="1" fill="#ff00ff"/>
<rect x="477" y="285" width="1" height="13" fill="#ff00ff"/>
<rect x="479" y="286" width="1" height="11" fill="#ff00ff"/>
<rect x="472" y="297" width="6" height="1" fill="#ff00ff"/>
<rect x="467" y="298" width="5" height="1" fill="#ff00ff"/>
<rect x="465" y="283" width="2" height="1" fill="#00ff00"/>
<rect x="466" y="284" width="1" height="2" fill="#00ff00"/>
<rect x="466" y="298" width="1" height="2" fill="#00ff00"/>
<rect x="465" y="299" width="1" height="1" fill="#00ff00"/>
<rect x="466" y="304" width="6" height="1" fill="#ff0000"/>
<rect x="472" y="305" width="6" height="1" fill="#ff0000"/>
<rect x="477" y="305" width="1" height="3" fill="#ff0000"/>
<rect x="477" y="307" width="4" height="1" fill="#ff0000"/>
<rect x="480" y="307" width="1" height="12" fill="#ff0000"/>
<rect x="477" y="318" width="4" height="1" fill="#ff0000"/>
<rect x="477" y="318" width="1" height="3" fill="#ff0000"/>
<rect x="472" y="320" width="6" height="1" fill="#ff0000"/>
<rect x="466" y="321" width="6" height="1" fill="#ff0000"/>
<rect x="467" y="306" width="5" height="1" fill="#ff00ff"/>
<rect x="472" y="307" width="5" height="1" fill="#ff00ff"/>
<rect x="477" y="308" width="1" height="10" fill="#ff00ff"/>
<rect x="479" y="308" width="1" height="10" fill="#ff00ff"/>
<rect x="472" y="318" width="5" height="1" fill="#ff00ff"/>
<rect x="467" y="319" width="5" height="1" fill="#ff00ff"/>
<rect x="465" y="304" width="1" height="1" fill="#00ff00"/>
<rect x="466" y="305" width="1" height="2" fill="#00ff00"/>
<rect x="466" y="319" width="1" height="2" fill="#00ff00"/>
<rect x="465" y="321" width="1" height="1" fill="#00ff00"/>
<path d="M442.5,281.5 H459.5 L463.5,285.5 V319.5 L459.5,323.5 H442.5 L438.5,319.5 V285.5 Z" stroke="#ff0000" stroke-width="1" fill="none"/>
<path d="M442.5,282.5 H459.5 L462.5,285.5 V319.5 L459.5,322.5 H442.5 L439.5,319.5 V285.5 Z" stroke="#c0c0c0" stroke-width="1" fill="none"/>
<rect x="437" y="285" width="2" height="35" fill="#ff0000"/>
<rect x="463" y="285" width="2" height="35" fill="#ff0000"/>
<rect x="489.5" y="113.5" width="19.0" height="18.0" stroke="#00ff00" stroke-width="1" fill="none"/>
<rect x="489" y="131" width="1" height="1" fill="#000"/>
<rect x="508" y="131" width="1" height="1" fill="#000"/>
<rect x="490.5" y="116.5" width="17" height="14" rx="2.5" stroke="#00ff00" fill="none"/>
<rect x="498" y="114" width="2" height="7" fill="#00ff00"/>
<rect x="496" y="115" width="6" height="1" fill="#00ff00"/>
<rect x="499" y="117" width="1" height="1" fill="#000"/>
<rect x="498.5" y="122.5" width="2.0" height="2.0" stroke="#00ff00" stroke-width="1" fill="none"/>
<rect x="527.5" y="131.5" width="14.0" height="24.0" stroke="#00ffff" stroke-width="1" fill="none"/>
<line x1="530.5" y1="131.5" x2="530.5" y2="155.5" stroke="#00ffff" stroke-width="1"/>
<line x1="529.5" y1="134" x2="529.5" y2="154" stroke="#ffff00" stroke-width="1"/>
<rect x="529" y="134" width="2" height="1" fill="#ffff00"/>
<rect x="529" y="153" width="2" height="1" fill="#ffff00"/>
<rect x="533" y="133" width="1" height="1" fill="#ffff00"/>
<rect x="534" y="133" width="1" height="1" fill="#ffff00"/>
<rect x="535" y="133" width="1" height="1" fill="#ffff00"/>
<rect x="536" y="133" width="1" height="1" fill="#ffff00"/>
<rect x="537" y="133" width="1" height="1" fill="#ffff00"/>
<rect x="538" y="133" width="1" height="1" fill="#ffff00"/>
<rect x="532" y="134" width="1" height="1" fill="#ffff00"/>
<rect x="533" y="134" width="1" height="1" fill="#ffff00"/>
<rect x="535" y="134" width="1" height="1" fill="#ffff00"/>
<rect x="536" y="134" width="1" height="1" fill="#ffff00"/>
<rect x="538" y="134" width="1" height="1" fill="#ffff00"/>
<rect x="539" y="134" width="1" height="1" fill="#ffff00"/>
<rect x="533" y="135" width="1" height="1" fill="#ffff00"/>
<rect x="534" y="135" width="1" height="1" fill="#ffff00"/>
<rect x="535" y="135" width="1" height="1" fill="#909060"/>
<rect x="536" y="135" width="1" height="1" fill="#909060"/>
<rect x="537" y="135" width="1" height="1" fill="#ffff00"/>
<rect x="538" y="135" width="1" height="1" fill="#ffff00"/>
<rect x="532" y="136" width="1" height="1" fill="#ffff00"/>
<rect x="533" y="136" width="1" height="1" fill="#ffff00"/>
<rect x="534" y="136" width="1" height="1" fill="#909060"/>
<rect x="537" y="136" width="1" height="1" fill="#909060"/>
<rect x="538" y="136" width="1" height="1" fill="#ffff00"/>
<rect x="539" y="136" width="1" height="1" fill="#ffff00"/>
<rect x="532" y="137" width="1" height="1" fill="#ffff00"/>
<rect x="533" y="137" width="1" height="1" fill="#ffff00"/>
<rect x="534" y="137" width="1" height="1" fill="#ffff00"/>
<rect x="535" y="137" width="1" height="1" fill="#909060"/>
<rect x="536" y="137" width="1" height="1" fill="#909060"/>
<rect x="537" y="137" width="1" height="1" fill="#ffff00"/>
<rect x="538" y="137" width="1" height="1" fill="#ffff00"/>
<rect x="539" y="137" width="1" height="1" fill="#ffff00"/>
<rect x="533" y="138" width="1" height="1" fill="#ffff00"/>
<rect x="534" y="138" width="1" height="1" fill="#ffff00"/>
<rect x="537" y="138" width="1" height="1" fill="#ffff00"/>
<rect x="538" y="138" width="1" height="1" fill="#ffff00"/>
<rect x="532" y="139" width="1" height="1" fill="#ffff00"/>
<rect x="533" y="139" width="1" height="1" fill="#ffff00"/>
<rect x="535" y="139" width="1" height="1" fill="#ffff00"/>
<rect x="536" y="139" width="1" height="1" fill="#ffff00"/>
<rect x="538" y="139" width="1" height="1" fill="#ffff00"/>
<rect x="539" y="139" width="1" height="1" fill="#ffff00"/>
<rect x="533" y="140" width="1" height="1" fill="#ffff00"/>
<rect x="534" y="140" width="1" height="1" fill="#ffff00"/>
<rect x="535" y="140" width="1" height="1" fill="#ffff00"/>
<rect x="536" y="140" width="1" height="1" fill="#ffff00"/>
<rect x="537" y="140" width="1" height="1" fill="#ffff00"/>
<rect x="538" y="140" width="1" height="1" fill="#ffff00"/>
<rect x="533" y="146" width="1" height="1" fill="#ffff00"/>
<rect x="534" y="146" width="1" height="1" fill="#ffff00"/>
<rect x="535" y="146" width="1" height="1" fill="#ffff00"/>
<rect x="536" y="146" width="1" height="1" fill="#ffff00"/>
<rect x="537" y="146" width="1" height="1" fill="#ffff00"/>
<rect x="538" y="146" width="1" height="1" fill="#ffff00"/>
<rect x="532" y="147" width="1" height="1" fill="#ffff00"/>
<rect x="533" y="147" width="1" height="1" fill="#ffff00"/>
<rect x="535" y="147" width="1" height="1" fill="#ffff00"/>
<rect x="536" y="147" width="1" height="1" fill="#ffff00"/>
<rect x="538" y="147" width="1" height="1" fill="#ffff00"/>
<rect x="539" y="147" width="1" height="1" fill="#ffff00"/>
<rect x="533" y="148" width="1" height="1" fill="#ffff00"/>
<rect x="534" y="148" width="1" height="1" fill="#ffff00"/>
<rect x="535" y="148" width="1" height="1" fill="#909060"/>
<rect x="536" y="148" width="1" height="1" fill="#909060"/>
<rect x="537" y="148" width="1" height="1" fill="#ffff00"/>
<rect x="538" y="148" width="1" height="1" fill="#ffff00"/>
<rect x="532" y="149" width="1" height="1" fill="#ffff00"/>
<rect x="533" y="149" width="1" height="1" fill="#ffff00"/>
<rect x="534" y="149" width="1" height="1" fill="#909060"/>
<rect x="537" y="149" width="1" height="1" fill="#909060"/>
<rect x="538" y="149" width="1" height="1" fill="#ffff00"/>
<rect x="539" y="149" width="1" height="1" fill="#ffff00"/>
<rect x="532" y="150" width="1" height="1" fill="#ffff00"/>
<rect x="533" y="150" width="1" height="1" fill="#ffff00"/>
<rect x="534" y="150" width="1" height="1" fill="#ffff00"/>
<rect x="535" y="150" width="1" height="1" fill="#909060"/>
<rect x="536" y="150" width="1" height="1" fill="#909060"/>
<rect x="537" y="150" width="1" height="1" fill="#ffff00"/>
<rect x="538" y="150" width="1" height="1" fill="#ffff00"/>
<rect x="539" y="150" width="1" height="1" fill="#ffff00"/>
<rect x="533" y="151" width="1" height="1" fill="#ffff00"/>
<rect x="534" y="151" width="1" height="1" fill="#ffff00"/>
<rect x="537" y="151" width="1" height="1" fill="#ffff00"/>
<rect x="538" y="151" width="1" height="1" fill="#ffff00"/>
<rect x="532" y="152" width="1" height="1" fill="#ffff00"/>
<rect x="533" y="152" width="1" height="1" fill="#ffff00"/>
<rect x="535" y="152" width="1" height="1" fill="#ffff00"/>
<rect x="536" y="152" width="1" height="1" fill="#ffff00"/>
<rect x="538" y="152" width="1" height="1" fill="#ffff00"/>
<rect x="539" y="152" width="1" height="1" fill="#ffff00"/>
<rect x="533" y="153" width="1" height="1" fill="#ffff00"/>
<rect x="534" y="153" width="1" height="1" fill="#ffff00"/>
<rect x="535" y="153" width="1" height="1" fill="#ffff00"/>
<rect x="536" y="153" width="1" height="1" fill="#ffff00"/>
<rect x="537" y="153" width="1" height="1" fill="#ffff00"/>
<rect x="538" y="153" width="1" height="1" fill="#ffff00"/>
<rect x="402.5" y="423.5" width="6.0" height="19.0" stroke="#00ffff" stroke-width="1" fill="none"/>
<rect x="403.5" y="424.5" width="4.0" height="17.0" stroke="#00ffff" stroke-width="1" fill="none"/>
<rect x="400" y="423" width="2" height="3" fill="#00ffff"/>
<polyline points="402.5,428.5 394.5,427.5 388.5,425.5 379.5,432.5 387.5,440.5 394.5,438.5 402.5,437.5" stroke="#00ffff" stroke-width="1" fill="none"/>
<polyline points="394.5,428.5 389.5,426.5 380.5,432.5 388.5,439.5 394.5,437.5" stroke="#00ffff" stroke-width="1" fill="none"/>
<polyline points="394.5,428.5 397.5,430.5 397.5,435.5 394.5,437.5" stroke="#00ffff" stroke-width="1" fill="none"/>
<g transform="translate(692,867.5) scale(-1,-1)">
<rect x="402.5" y="423.5" width="6.0" height="19.0" stroke="#00ffff" stroke-width="1" fill="none"/>
<rect x="403.5" y="424.5" width="4.0" height="17.0" stroke="#00ffff" stroke-width="1" fill="none"/>
<rect x="400" y="423" width="2" height="3" fill="#00ffff"/>
<polyline points="402.5,428.5 394.5,427.5 388.5,425.5 379.5,432.5 387.5,440.5 394.5,438.5 402.5,437.5" stroke="#00ffff" stroke-width="1" fill="none"/>
<polyline points="394.5,428.5 389.5,426.5 380.5,432.5 388.5,439.5 394.5,437.5" stroke="#00ffff" stroke-width="1" fill="none"/>
<polyline points="394.5,428.5 397.5,430.5 397.5,435.5 394.5,437.5" stroke="#00ffff" stroke-width="1" fill="none"/>
</g>
<line x1="314.7" y1="266.2" x2="349" y2="104.5" stroke="#00ff00" stroke-width="1.008"/>
<line x1="314.7" y1="266.2" x2="551.5" y2="113.2" stroke="#00ff00" stroke-width="0.865"/>
<line x1="314.7" y1="266.2" x2="551.5" y2="317.3" stroke="#00ff00" stroke-width="1.007"/>
<line x1="314.7" y1="266.2" x2="272.5" y2="465.5" stroke="#00ff00" stroke-width="1.008"/>
<line x1="314.7" y1="266.2" x2="110.5" y2="398.8" stroke="#00ff00" stroke-width="0.864"/>
<line x1="313.3" y1="266.2" x2="180.3" y2="59.5" stroke="#00ff00" stroke-width="0.866"/>
<line x1="313.3" y1="266.2" x2="443" y2="465.5" stroke="#00ff00" stroke-width="0.863"/>
<line x1="60.5" y1="212.2" x2="314.7" y2="267.2" stroke="#00ff00" stroke-width="1.0"/>
</g>
<g xml:space="preserve">
<text x="198.72" y="36.41" font-size="24.84" fill="#00ff00" textLength="34.14" lengthAdjust="spacingAndGlyphs">绝命</text>
<text x="239.59" y="36.39" font-size="25.11" fill="#00ff00" textLength="33.70" lengthAdjust="spacingAndGlyphs">辛向</text>
<text x="273.38" y="37.20" font-size="29.58" fill="#00ff00" textLength="17.28" lengthAdjust="spacingAndGlyphs" stroke="#000" stroke-width="0.45">88</text>
<text x="291" y="32.2" font-size="14" fill="#00ff00" textLength="6.7" lengthAdjust="spacingAndGlyphs">-</text>
<text x="298.8" y="31.2" font-size="14" fill="#00ff00" textLength="8" lengthAdjust="spacingAndGlyphs">-</text>
<text x="421.25" y="39.35" font-size="26.85" fill="#00ff00" textLength="17.03" lengthAdjust="spacingAndGlyphs">乾</text>
<text x="438.94" y="40.19" font-size="30.99" fill="#00ff00" textLength="16.85" lengthAdjust="spacingAndGlyphs" stroke="#000" stroke-width="0.45">79</text>
<text x="456.28" y="39.58" font-size="27.44" fill="#00ff00" textLength="16.41" lengthAdjust="spacingAndGlyphs">九</text>
<text x="479.10" y="39.60" font-size="27.14" fill="#00ff00" textLength="33.23" lengthAdjust="spacingAndGlyphs">五鬼</text>
<text x="543.46" y="68.00" font-size="25.00" fill="#0000ff" textLength="50.21" lengthAdjust="spacingAndGlyphs" style="font-weight:400">图十一</text>
<text x="17.32" y="102.28" font-size="26.52" fill="#00ff00" textLength="16.90" lengthAdjust="spacingAndGlyphs">坤</text>
<text x="16.88" y="135.24" font-size="26.06" fill="#00ff00" textLength="17.11" lengthAdjust="spacingAndGlyphs" stroke="#000" stroke-width="0.45">34</text>
<text x="16.44" y="169.01" font-size="24.34" fill="#00ff00" textLength="17.61" lengthAdjust="spacingAndGlyphs">五</text>
<text x="11.33" y="203.78" font-size="25.22" fill="#00ff00" textLength="33.65" lengthAdjust="spacingAndGlyphs">祸害</text>
<text x="18.84" y="281.60" font-size="27.50" fill="#00ff00" textLength="16.63" lengthAdjust="spacingAndGlyphs">离</text>
<text x="19.03" y="316.20" font-size="29.72" fill="#00ff00" textLength="13.48" lengthAdjust="spacingAndGlyphs" stroke="#000" stroke-width="0.45">16</text>
<text x="18.86" y="349.50" font-size="26.35" fill="#00ff00" textLength="16.28" lengthAdjust="spacingAndGlyphs">三</text>
<text x="14.48" y="384.99" font-size="25.11" fill="#00ff00" textLength="33.89" lengthAdjust="spacingAndGlyphs">生气</text>
<text x="575.40" y="190.99" font-size="25.12" fill="#00ff00" textLength="31.89" lengthAdjust="spacingAndGlyphs">天医</text>
<text x="584.21" y="222.19" font-size="26.41" fill="#00ff00" textLength="17.14" lengthAdjust="spacingAndGlyphs">坎</text>
<text x="584.20" y="254.83" font-size="27.32" fill="#00ff00" textLength="15.60" lengthAdjust="spacingAndGlyphs" stroke="#000" stroke-width="0.45">25</text>
<text x="584.65" y="287.97" font-size="24.62" fill="#00ff00" textLength="15.50" lengthAdjust="spacingAndGlyphs">四</text>
<text x="574.15" y="364.00" font-size="25.00" fill="#00ff00" textLength="33.93" lengthAdjust="spacingAndGlyphs">六煞</text>
<text x="580.12" y="392.07" font-size="24.14" fill="#00ff00" textLength="15.50" lengthAdjust="spacingAndGlyphs">艮</text>
<text x="580.87" y="427.21" font-size="28.87" fill="#00ff00" textLength="16.19" lengthAdjust="spacingAndGlyphs" stroke="#000" stroke-width="0.45">97</text>
<text x="580.42" y="458.93" font-size="21.62" fill="#00ff00" textLength="16.36" lengthAdjust="spacingAndGlyphs" style="font-weight:400">二</text>
<text x="122.15" y="504.32" font-size="28.52" fill="#00ff00" textLength="17.50" lengthAdjust="spacingAndGlyphs">巽</text>
<text x="139.74" y="504.70" font-size="30.28" fill="#00ff00" textLength="15.70" lengthAdjust="spacingAndGlyphs" stroke="#000" stroke-width="0.45">52</text>
<text x="155.30" y="505.43" font-size="29.19" fill="#00ff00" textLength="18.30" lengthAdjust="spacingAndGlyphs">七</text>
<text x="186.33" y="504.42" font-size="27.28" fill="#00ff00" textLength="33.72" lengthAdjust="spacingAndGlyphs">延年</text>
<text x="311.70" y="504.07" font-size="27.53" fill="#00ff00" textLength="33.41" lengthAdjust="spacingAndGlyphs">乙山</text>
<text x="346.09" y="504.70" font-size="30.28" fill="#00ff00" textLength="17.06" lengthAdjust="spacingAndGlyphs" stroke="#000" stroke-width="0.45">43</text>
<text x="363.84" y="504.09" font-size="27.22" fill="#00ff00" textLength="17.22" lengthAdjust="spacingAndGlyphs">六</text>
<text x="391.90" y="503.87" font-size="26.63" fill="#00ff00" textLength="33.54" lengthAdjust="spacingAndGlyphs">伏位</text>
<text x="208.79" y="164.89" font-size="18.82" fill="#00ff00" textLength="25.65" lengthAdjust="spacingAndGlyphs" style="font-weight:400">客厅</text>
<text x="449.39" y="151.16" font-size="19.24" fill="#00ff00" textLength="25.64" lengthAdjust="spacingAndGlyphs" style="font-weight:400">厨房</text>
<text x="287.78" y="272.66" font-size="18.17" fill="#00ff00" textLength="36.19" lengthAdjust="spacingAndGlyphs" style="font-weight:400">长子房</text>
<text x="430.86" y="266.83" font-size="19.67" fill="#00ff00" textLength="27.02" lengthAdjust="spacingAndGlyphs" style="font-weight:400">餐厅</text>
<text x="135.04" y="433.25" font-size="18.15" fill="#00ff00" textLength="37.97" lengthAdjust="spacingAndGlyphs" style="font-weight:400">主人房</text>
<text x="298.72" y="421.25" font-size="19.34" fill="#00ff00" textLength="24.06" lengthAdjust="spacingAndGlyphs" style="font-weight:400">厕所</text>
<text x="371.69" y="417.21" font-size="19.89" fill="#00ff00" textLength="25.42" lengthAdjust="spacingAndGlyphs" style="font-weight:400">厕所</text>
<text x="434.82" y="426.81" font-size="18.60" fill="#00ff00" textLength="23.83" lengthAdjust="spacingAndGlyphs" style="font-weight:400">客房</text>
</g>
</svg>
</body></html>
